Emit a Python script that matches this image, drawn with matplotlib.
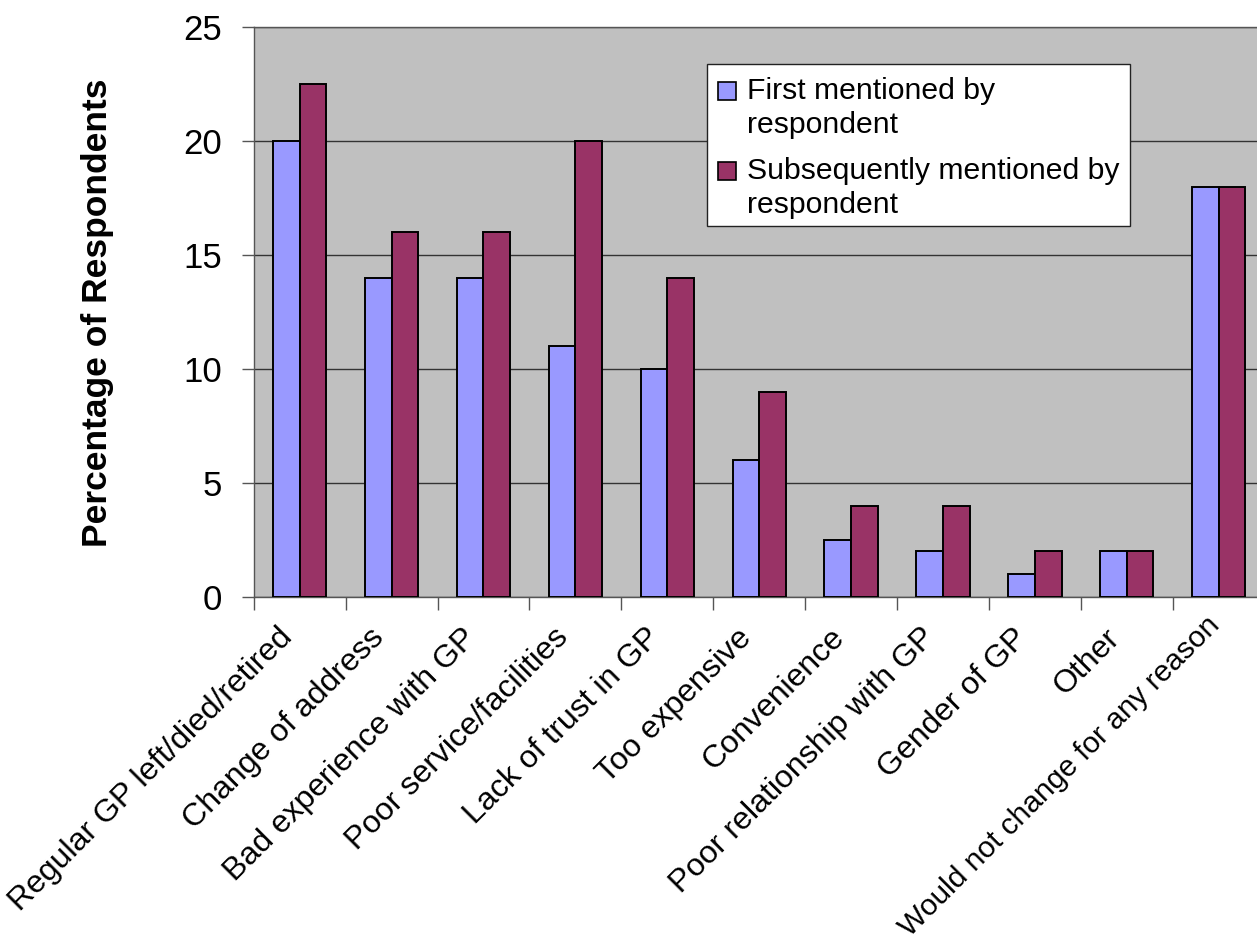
import matplotlib
matplotlib.use("Agg")
import matplotlib.pyplot as plt
from matplotlib.patches import Rectangle
from matplotlib.transforms import ScaledTranslation
import numpy as np

plt.rcParams["font.family"] = ["Liberation Sans", "DejaVu Sans"]

categories = [
    "Regular GP left/died/retired",
    "Change of address",
    "Bad experience with GP",
    "Poor service/facilities",
    "Lack of trust in GP",
    "Too expensive",
    "Convenience",
    "Poor relationship with GP",
    "Gender of GP",
    "Other",
    "Would not change for any reason",
]
first_mentioned = [20, 14, 14, 11, 10, 6, 2.5, 2, 1, 2, 18]
subsequently_mentioned = [22.5, 16, 16, 20, 14, 9, 4, 4, 2, 2, 18]
series_names = ["First mentioned by\nrespondent", "Subsequently mentioned by\nrespondent"]
y_ticks = [0, 5, 10, 15, 20, 25]
y_label = "Percentage of Respondents"

W, H = 1257, 940
DPI = 100
COL_FIRST = "#9999FF"
COL_SUBSEQ = "#993366"
AXIS_GREY = "#555555"


def fig_xy(px, py):
    """Pixel position (from top-left) to figure fraction."""
    return px / W, 1 - py / H


fig = plt.figure(figsize=(W / DPI, H / DPI), dpi=DPI)
fig.patch.set_facecolor("white")

# plot area (its right edge runs past the canvas)
ax = fig.add_axes([253.7 / W, 1 - 597 / H, 1011 / W, 570 / H])
ax.set_facecolor("#C0C0C0")

n = len(categories)
centers = np.arange(n) + 0.5
bw = 0.29
ax.bar(centers - bw / 2, first_mentioned, bw, color=COL_FIRST,
       edgecolor="black", linewidth=1.4, zorder=3)
ax.bar(centers + bw / 2, subsequently_mentioned, bw, color=COL_SUBSEQ,
       edgecolor="black", linewidth=1.4, zorder=3)

ax.set_xlim(0, n)
ax.set_ylim(y_ticks[0], y_ticks[-1])
ax.set_yticks(y_ticks)
ax.set_yticklabels([str(t) for t in y_ticks])
ax.yaxis.grid(True, color="#333333", linewidth=1.0)
ax.set_axisbelow(True)

# tick marks at category boundaries, labels at category centres
ax.set_xticks(np.arange(n + 1))
ax.set_xticklabels([])
ax.set_xticks(centers, minor=True)
labels = ax.set_xticklabels(categories, minor=True, rotation=45, ha="right",
                            va="baseline", rotation_mode="anchor",
                            fontsize=23)
ax.tick_params(axis="x", which="major", length=9, width=1,
               color=AXIS_GREY, direction="out")
ax.tick_params(axis="x", which="minor", length=0, pad=30.2)
ax.tick_params(axis="y", length=8.6, width=1, color=AXIS_GREY,
               direction="out", pad=14.4, labelsize=25)

for i, lab in enumerate(labels):
    if i == len(labels) - 1:
        # longest label: a touch smaller and raised to stay on the canvas
        lab.set_fontsize(21.5)
        dx, dy = 2, 12
    else:
        dx, dy = -6, 0
    lab.set_transform(lab.get_transform()
                      + ScaledTranslation(dx / DPI, dy / DPI, fig.dpi_scale_trans))

for side in ("left", "bottom", "top"):
    ax.spines[side].set_color(AXIS_GREY)
    ax.spines[side].set_linewidth(1.0)
ax.spines["right"].set_visible(False)

fig.text(*fig_xy(97, 313), y_label, rotation=90, ha="center", va="center",
         fontsize=25.5, fontweight="bold")

# legend box
lx0, ly0 = fig_xy(706.7, 226)
lx1, ly1 = fig_xy(1130, 64.3)
fig.patches.append(Rectangle((lx0, ly0), lx1 - lx0, ly1 - ly0,
                             transform=fig.transFigure, facecolor="white",
                             edgecolor="#222222", linewidth=1.0, zorder=5))
# (swatch colour, swatch top, baseline of the label's last line)
legend_rows = [(COL_FIRST, 81.7, 133.3), (COL_SUBSEQ, 162.3, 213.3)]
for (color, sq_top, base), name in zip(legend_rows, series_names):
    sx, sy = fig_xy(718, sq_top + 18)
    fig.patches.append(Rectangle((sx, sy), 18 / W, 18 / H,
                                 transform=fig.transFigure, facecolor=color,
                                 edgecolor="black", linewidth=1.2, zorder=6))
    tx, ty = fig_xy(746.7, base)
    fig.text(tx, ty, name, ha="left", va="baseline", fontsize=21.7,
             linespacing=1.27, zorder=7)

fig.savefig("out.png", dpi=DPI, facecolor="white")
